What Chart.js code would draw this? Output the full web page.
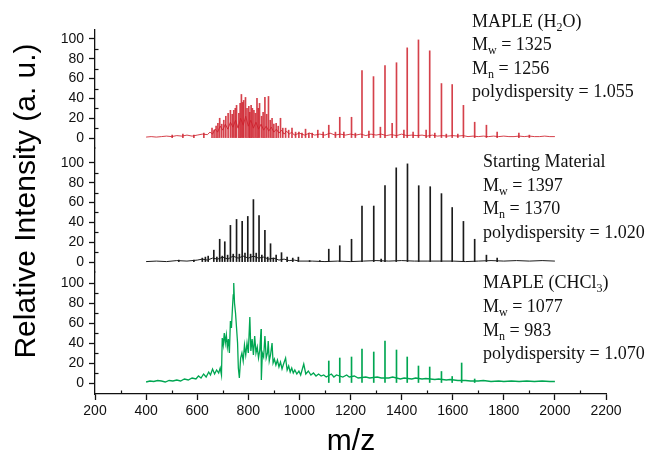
<!DOCTYPE html>
<html>
<head>
<meta charset="utf-8">
<script src="https://cdn.jsdelivr.net/npm/chart.js@4.4.1/dist/chart.umd.min.js"></script>
<style>
  html, body { margin: 0; padding: 0; background: #fff; }
  #wrap { width: 647px; height: 460px; position: relative; }
</style>
</head>
<body>
<div id="wrap"><canvas id="spectra"></canvas></div>
<script>
// axis ticks
const xTicks = [200, 400, 600, 800, 1000, 1200, 1400, 1600, 1800, 2000, 2200];
const xMinorTicks = [300, 500, 700, 900, 1100, 1300, 1500, 1700, 1900, 2100];
const yTicks = [0, 20, 40, 60, 80, 100];
const yMinorTicks = [10, 30, 50, 70, 90];

// MAPLE (H2O) - red
const redNoiseMz = [400, 420, 440, 460, 480, 500, 520, 540, 560, 580, 600, 620, 640, 650, 660, 670, 680, 690, 700, 710, 720, 730, 740, 750, 760, 770, 780, 790, 800, 810, 820, 830, 840, 850, 860, 870, 880, 890, 900, 910, 920, 930, 940, 950, 960, 970, 980, 1000, 1020, 1040, 1060, 1080, 1100, 1120, 1140, 1160, 1180, 1200, 1220, 1240, 1260, 1280, 1300, 1320, 1340, 1360, 1380, 1400, 1420, 1440, 1460, 1480, 1500, 1520, 1540, 1560, 1580, 1600, 1620, 1640, 1660, 1680, 1700, 1720, 1740, 1760, 1780, 1800, 1820, 1840, 1860, 1880, 1900, 1920, 1940, 1960, 1980, 2000];
const redNoiseInt = [1, 1.5, 1, 1.5, 2, 1.5, 2.5, 2, 3, 2, 3, 4, 3.5, 6, 4, 9, 6, 12, 8, 14, 9, 16, 11, 18, 10, 20, 13, 22, 12, 18, 10, 16, 9, 14, 8, 12, 7, 11, 6, 9, 5, 8, 4, 7, 4, 6, 3, 5, 3, 5, 3, 4, 3, 5, 3, 4, 3, 4, 3, 4, 2.5, 4, 3, 4, 2.5, 3.5, 2.5, 4, 2.5, 3, 2.5, 3, 2, 3, 2, 2.5, 2, 2.5, 2, 2.5, 1.5, 2, 1.5, 2, 1.5, 2, 1.5, 2, 1.5, 1.5, 2, 1.5, 2, 1.5, 1.5, 2, 1.5, 1.5];
const redPeakMz = [502, 544, 587, 626, 658, 666, 674, 681, 688, 696, 704, 712, 721, 730, 737, 743, 749, 754, 763, 768, 773, 778, 782, 789, 795, 802, 806, 811, 816, 822, 828, 834, 839, 844, 852, 858, 865, 872, 879, 886, 893, 900, 909, 917, 926, 935, 946, 958, 971, 985, 998, 1010, 1024, 1037, 1050, 1072, 1093, 1115, 1141, 1158, 1174, 1204, 1219, 1245, 1272, 1290, 1317, 1335, 1363, 1380, 1409, 1422, 1445, 1466, 1496, 1510, 1530, 1556, 1575, 1598, 1620, 1642, 1686, 1732, 1774, 1859, 1900];
const redPeakInt = [3, 4, 3, 5, 10, 8, 12, 15, 20, 14, 18, 22, 25, 28, 24, 28, 30, 33, 25, 35, 44, 36, 38, 41, 30, 32, 26, 33, 30, 28, 25, 40, 30, 35, 22, 26, 41, 24, 42, 18, 20, 14, 15, 12, 20, 10, 10, 8, 10, 6, 6, 5, 9, 5, 5, 8, 6, 13, 6, 21, 6, 21, 5, 68, 7, 62, 11, 73, 15, 76, 8, 91, 6, 99, 8, 88, 5, 55, 4, 54, 4, 33, 16, 13, 6, 5, 3];

// Starting Material - black
const blackNoiseMz = [400, 440, 480, 520, 560, 600, 620, 640, 660, 680, 700, 720, 740, 760, 780, 800, 820, 840, 860, 880, 900, 920, 940, 960, 980, 1000, 1050, 1100, 1150, 1200, 1250, 1300, 1350, 1400, 1450, 1500, 1550, 1600, 1650, 1700, 1750, 1800, 1850, 1900, 1950, 2000];
const blackNoiseInt = [0.5, 1, 0.5, 1.5, 1, 2, 3, 2, 4, 3, 5, 3, 6, 4, 6, 4, 6, 4, 5, 3, 4, 2, 3, 1.5, 2, 1, 1, 0.5, 1, 0.5, 1, 1.5, 1, 1.5, 1, 1, 1, 1, 0.5, 1, 1.5, 1, 1.5, 1, 1.5, 1];
const blackPeakMz = [528, 587, 620, 632, 643, 665, 677, 688, 698, 708, 719, 730, 741, 754, 765, 776, 787, 798, 809, 820, 831, 842, 853, 865, 876, 887, 898, 909, 930, 952, 974, 996, 1040, 1080, 1115, 1158, 1204, 1245, 1291, 1320, 1335, 1379, 1423, 1467, 1512, 1556, 1598, 1642, 1686, 1732, 1774];
const blackPeakInt = [2, 2, 4, 5, 6, 12, 5, 23, 6, 20.5, 7, 37, 8, 43, 8, 41, 9, 46, 8, 63, 9, 47, 7, 32, 5, 18.5, 4, 7, 9.5, 5, 4, 5, 1.5, 1.5, 13, 16.5, 23, 56.5, 56.5, 3, 77, 95, 99, 77, 76, 69, 55, 41, 23, 7, 4];

// MAPLE (CHCl3) - green
const greenNoiseMz = [400, 415, 430, 445, 460, 475, 490, 505, 520, 535, 550, 565, 580, 595, 605, 615, 625, 635, 645, 652, 660, 668, 676, 684, 690, 695, 698, 702, 706, 710, 714, 718, 722, 726, 730, 734, 738, 741, 743, 746, 750, 754, 758, 761, 765, 770, 775, 780, 785, 790, 795, 800, 806, 810, 815, 820, 825, 830, 835, 840, 845, 850, 851, 855, 860, 865, 870, 875, 878, 882, 887, 893, 897, 902, 908, 914, 920, 926, 932, 938, 946, 952, 958, 964, 970, 976, 982, 990, 998, 1005, 1017, 1025, 1035, 1045, 1055, 1065, 1075, 1085, 1095, 1105, 1125, 1135, 1145, 1170, 1185, 1195, 1215, 1230, 1260, 1275, 1305, 1320, 1350, 1365, 1395, 1410, 1440, 1455, 1480, 1495, 1530, 1545, 1575, 1590, 1620, 1650, 1670, 1700, 1720, 1750, 1780, 1800, 1830, 1860, 1890, 1920, 1950, 1980, 2000];
const greenNoiseInt = [1, 2, 1.5, 2.5, 2, 1, 2.5, 2, 3, 2, 4, 3, 5, 4, 7, 5, 9, 6, 11, 8, 14, 9, 13, 10, 15, 8, 45, 38, 50, 40, 48, 36, 44, 30, 62, 55, 75, 88, 100, 80, 70, 55, 40, 15, 5, 25, 30, 22, 38, 28, 40, 30, 66, 32, 44, 28, 47, 30, 36, 25, 33, 54, 3, 30, 26, 47, 25, 30, 42, 22, 28, 40, 20, 24, 18, 23, 16, 21, 14, 19, 25, 13, 17, 11, 15, 10, 13, 9, 12, 8, 19, 9, 12, 8, 10, 7, 9, 7, 8, 6, 9, 6, 8, 6, 8, 6, 7, 5, 6, 5, 6, 5, 5, 6, 4, 5, 4, 5, 4, 4.5, 3.5, 4, 3, 3.5, 2.5, 2.5, 2, 2, 2.5, 1.5, 2, 1.5, 2, 1.5, 2, 1.5, 2, 1.5, 1.5];
const greenPeakMz = [1115, 1158, 1204, 1245, 1291, 1335, 1380, 1422, 1466, 1510, 1556, 1598, 1635, 1686];
const greenPeakInt = [22, 25, 26, 34, 31, 42, 33, 26, 17, 16, 11.5, 6.5, 20, 4];

// sample labels (segments, 'sub' = subscript)
const sampleNames = [
  [['MAPLE (H'], ['2', 'sub'], ['O)']],
  [['Starting Material']],
  [['MAPLE (CHCl'], ['3', 'sub'], [')']]
];
const mwValues = ['1325', '1397', '1077'];
const mnValues = ['1256', '1370', '983'];
const pdValues = ['1.055', '1.020', '1.070'];

const RED = 'rgba(206, 32, 44, 0.85)';
const BLACK = '#1b1b1b';
const GREEN = 'rgb(0, 166, 82)';
const AXIS = '#111';

function pts(mz, vals) {
  return mz.map((m, i) => ({ x: m, y: vals[i] }));
}

function lineSet(mz, vals, axis, color, width) {
  return {
    type: 'line', data: pts(mz, vals), yAxisID: axis,
    borderColor: color, borderWidth: width, pointRadius: 0, tension: 0
  };
}

function stickSet(mz, vals, axis, color) {
  return {
    type: 'bar', data: pts(mz, vals), yAxisID: axis,
    backgroundColor: color, borderWidth: 0, barThickness: 1, grouped: false
  };
}

function yScale(min, max, weight) {
  return {
    type: 'linear', position: 'left', stack: 'panels', stackWeight: weight,
    min: min, max: max,
    afterBuildTicks: s => { s.ticks = yTicks.map(v => ({ value: v })); },
    afterFit: s => { s.width = 95; },
    ticks: {
      font: { family: 'Liberation Sans', size: 14 }, color: AXIS, padding: 5,
      autoSkip: false, callback: v => String(v)
    },
    grid: { drawOnChartArea: false, tickLength: 6, tickColor: AXIS, tickWidth: 1.3 },
    border: { color: AXIS, width: 1.3 }
  };
}

// minor ticks pointing inward
const minorTicks = {
  id: 'minorTicks',
  afterDraw(chart) {
    const ctx = chart.ctx;
    ctx.save();
    ctx.strokeStyle = AXIS;
    ctx.lineWidth = 1.2;
    ['yTop', 'yMid', 'yBot'].forEach(id => {
      const s = chart.scales[id];
      yMinorTicks.forEach(v => {
        const y = Math.round(s.getPixelForValue(v)) + 0.5;
        ctx.beginPath();
        ctx.moveTo(s.right, y);
        ctx.lineTo(s.right + 3.5, y);
        ctx.stroke();
      });
    });
    const xs = chart.scales.x;
    xMinorTicks.forEach(v => {
      const x = Math.round(xs.getPixelForValue(v)) + 0.5;
      ctx.beginPath();
      ctx.moveTo(x, xs.top);
      ctx.lineTo(x, xs.top - 3.5);
      ctx.stroke();
    });
    ctx.restore();
  }
};

function drawSegments(ctx, segs, x, y) {
  segs.forEach(seg => {
    if (seg[1] === 'sub') {
      ctx.font = '12px "Liberation Serif"';
      ctx.fillText(seg[0], x, y + 4);
    } else {
      ctx.font = '18px "Liberation Serif"';
      ctx.fillText(seg[0], x, y);
    }
    x += ctx.measureText(seg[0]).width;
  });
}

const labelsPlugin = {
  id: 'labels',
  afterDraw(chart) {
    const ctx = chart.ctx;
    ctx.save();
    ctx.fillStyle = '#111';
    ctx.textBaseline = 'alphabetic';
    ctx.textAlign = 'left';
    const spots = [
      { x: 472, y: [26.5, 50, 73.5, 97] },
      { x: 483, y: [167, 190.5, 214, 237.5] },
      { x: 483, y: [288, 312, 335.5, 359] }
    ];
    spots.forEach((p, i) => {
      const lines = [
        sampleNames[i],
        [['M'], ['w', 'sub'], [' = ' + mwValues[i]]],
        [['M'], ['n', 'sub'], [' = ' + mnValues[i]]],
        [['polydispersity = ' + pdValues[i]]]
      ];
      lines.forEach((segs, j) => drawSegments(ctx, segs, p.x, p.y[j]));
    });

    // axis titles
    ctx.fillStyle = '#000';
    ctx.font = '30px "Liberation Sans"';
    ctx.textAlign = 'center';
    ctx.textBaseline = 'middle';
    ctx.fillText('m/z', 351, 442);
    ctx.translate(27, 201);
    ctx.rotate(-Math.PI / 2);
    ctx.fillText('Relative Intensity (a. u.)', 0, 0);
    ctx.restore();
  }
};

new Chart(document.getElementById('spectra'), {
  type: 'line',
  data: {
    datasets: [
      lineSet(redNoiseMz, redNoiseInt, 'yTop', RED, 1),
      stickSet(redPeakMz, redPeakInt, 'yTop', RED),
      lineSet(blackNoiseMz, blackNoiseInt, 'yMid', BLACK, 1),
      stickSet(blackPeakMz, blackPeakInt, 'yMid', BLACK),
      lineSet(greenNoiseMz, greenNoiseInt, 'yBot', GREEN, 1.3),
      stickSet(greenPeakMz, greenPeakInt, 'yBot', GREEN)
    ]
  },
  options: {
    responsive: true,
    maintainAspectRatio: false,
    animation: false,
    layout: { padding: { left: 0, top: 30, right: 41, bottom: 0 } },
    plugins: { legend: { display: false }, tooltip: { enabled: false } },
    scales: {
      x: {
        type: 'linear', min: 200, max: 2200, offset: false,
        afterBuildTicks: s => { s.ticks = xTicks.map(v => ({ value: v })); },
        afterFit: s => { s.height = 66; },
        ticks: {
          font: { family: 'Liberation Sans', size: 14 }, color: AXIS, padding: 3,
          maxRotation: 0, autoSkip: false, callback: v => String(v)
        },
        grid: { drawOnChartArea: false, offset: false, tickLength: 6, tickColor: AXIS, tickWidth: 1.3 },
        border: { color: AXIS, width: 1.3 }
      },
      yBot: yScale(-11, 111, 122),
      yMid: yScale(-10, 115, 124),
      yTop: yScale(-10, 109, 118)
    }
  },
  plugins: [minorTicks, labelsPlugin]
});
</script>
</body>
</html>
